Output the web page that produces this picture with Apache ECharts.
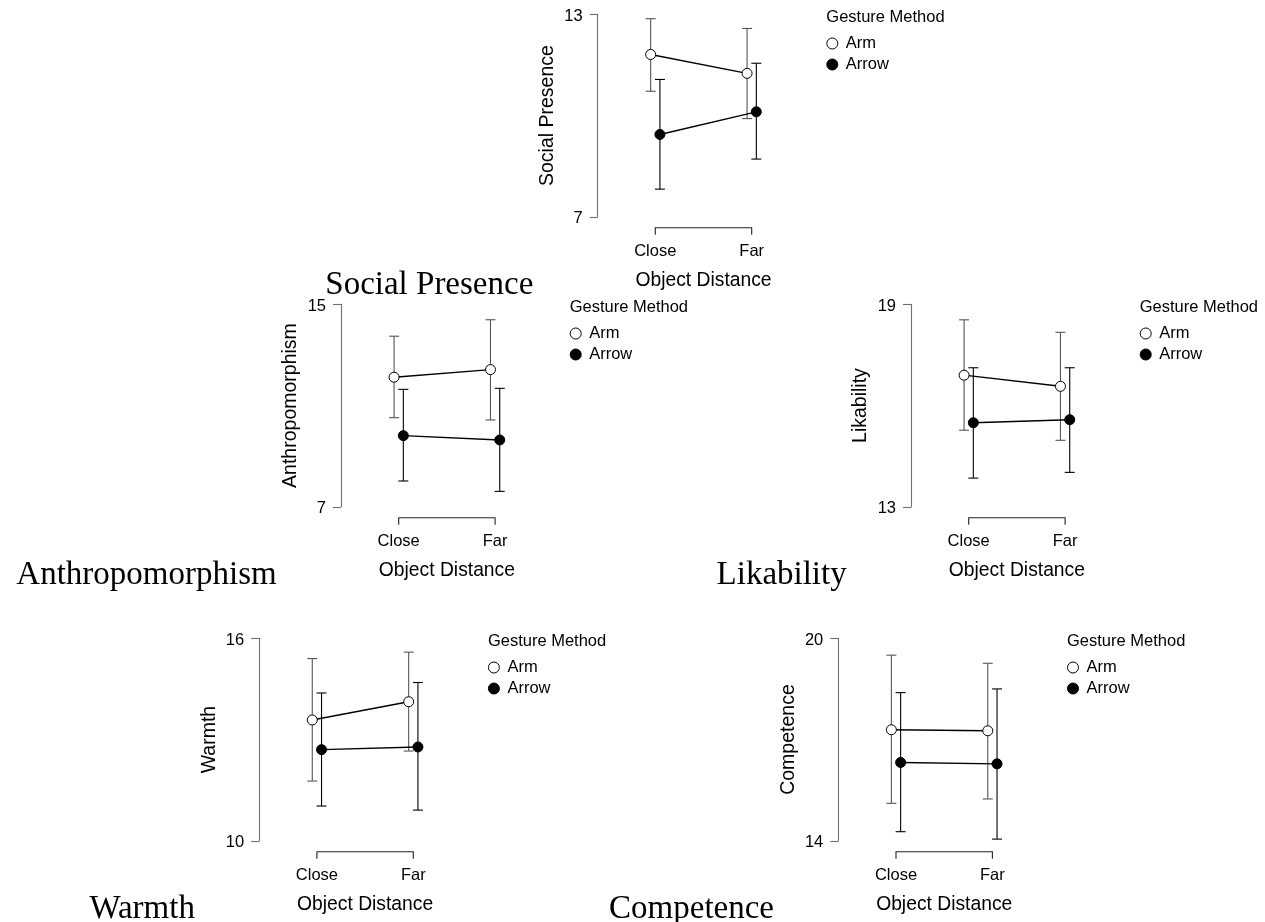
<!DOCTYPE html>
<html>
<head>
<meta charset="utf-8">
<script src="https://cdn.jsdelivr.net/npm/echarts@6/dist/echarts.min.js"></script>
<style>
html,body{margin:0;padding:0;background:#fff;}
#chart{width:1265px;height:922px;}
</style>
</head>
<body>
<div id="chart"></div>
<script>
// ---- data ----
const categories = ['Close', 'Far'];
const groups = ['Arm', 'Arrow'];
const legendTitle = 'Gesture Method';
const xTitle = 'Object Distance';
const panelNames = ['Social Presence', 'Anthropomorphism', 'Likability', 'Warmth', 'Competence'];
const yMins = [7, 7, 13, 10, 14];
const yMaxs = [13, 15, 19, 16, 20];

const socialArm = [11.81, 11.25];
const socialArmLo = [10.72, 9.91];
const socialArmHi = [12.87, 12.58];
const socialArrow = [9.44, 10.11];
const socialArrowLo = [7.82, 8.71];
const socialArrowHi = [11.07, 11.55];

const anthroArm = [12.12, 12.42];
const anthroArmLo = [10.52, 10.43];
const anthroArmHi = [13.74, 14.39];
const anthroArrow = [9.81, 9.64];
const anthroArrowLo = [8.02, 7.61];
const anthroArrowHi = [11.64, 11.68];

const likeArm = [16.90, 16.57];
const likeArmLo = [15.27, 14.97];
const likeArmHi = [18.54, 18.17];
const likeArrow = [15.49, 15.58];
const likeArrowLo = [13.85, 14.02];
const likeArrowHi = [17.12, 17.12];

const warmArm = [13.58, 14.12];
const warmArmLo = [11.77, 12.66];
const warmArmHi = [15.40, 15.59];
const warmArrow = [12.70, 12.78];
const warmArrowLo = [11.03, 10.91];
const warmArrowHi = [14.38, 14.69];

const compArm = [17.29, 17.26];
const compArmLo = [15.11, 15.24];
const compArmHi = [19.50, 19.26];
const compArrow = [16.32, 16.28];
const compArrowLo = [14.27, 14.05];
const compArrowHi = [18.39, 18.50];

const panelData = [
  { arm: socialArm, armLo: socialArmLo, armHi: socialArmHi, arrow: socialArrow, arrowLo: socialArrowLo, arrowHi: socialArrowHi },
  { arm: anthroArm, armLo: anthroArmLo, armHi: anthroArmHi, arrow: anthroArrow, arrowLo: anthroArrowLo, arrowHi: anthroArrowHi },
  { arm: likeArm, armLo: likeArmLo, armHi: likeArmHi, arrow: likeArrow, arrowLo: likeArrowLo, arrowHi: likeArrowHi },
  { arm: warmArm, armLo: warmArmLo, armHi: warmArmHi, arrow: warmArrow, arrowLo: warmArrowLo, arrowHi: warmArrowHi },
  { arm: compArm, armLo: compArmLo, armHi: compArmHi, arrow: compArrow, arrowLo: compArrowLo, arrowHi: compArrowHi }
];

// ---- layout (pixels) ----
const layout = [
  { closeX: 655.3, top: 14.3 },
  { closeX: 398.7, top: 304.3 },
  { closeX: 968.7, top: 304.3 },
  { closeX: 316.9, top: 638.3 },
  { closeX: 896.0, top: 638.3 }
];
const catSpacing = 96.4;
const plotHeight = 202.5;
const dodge = 0.048;
const SANS = '"Liberation Sans", Arial, sans-serif';
const SERIF = '"Liberation Serif", "Times New Roman", serif';

const chart = echarts.init(document.getElementById('chart'), null, { renderer: 'canvas' });

const grids = [], xAxes = [], yAxes = [], series = [], legends = [], graphics = [];

function errorBarSeries(i, name, lo, hi, offset, color) {
  return {
    type: 'custom',
    name: name,
    xAxisIndex: i, yAxisIndex: i,
    z: 2,
    silent: true,
    data: lo.map((v, k) => [k + 1 + offset, v, hi[k]]),
    renderItem: function (params, api) {
      const x = api.value(0);
      const pLo = api.coord([x, api.value(1)]);
      const pHi = api.coord([x, api.value(2)]);
      const cap = 5;
      const st = { stroke: color, lineWidth: 1.1 };
      return {
        type: 'group',
        children: [
          { type: 'line', shape: { x1: pLo[0], y1: pLo[1], x2: pHi[0], y2: pHi[1] }, style: st },
          { type: 'line', shape: { x1: pLo[0] - cap, y1: pLo[1], x2: pLo[0] + cap, y2: pLo[1] }, style: st },
          { type: 'line', shape: { x1: pHi[0] - cap, y1: pHi[1], x2: pHi[0] + cap, y2: pHi[1] }, style: st }
        ]
      };
    }
  };
}

layout.forEach((L, i) => {
  const d = panelData[i];
  const left = L.closeX - catSpacing / 2;
  grids.push({ left: left, top: L.top, width: catSpacing * 2, height: plotHeight, containLabel: false });
  xAxes.push({
    type: 'value', gridIndex: i, min: 0.5, max: 2.5,
    axisLine: { show: false }, axisTick: { show: false }, splitLine: { show: false },
    axisLabel: {
      customValues: [1, 2],
      formatter: v => categories[Math.round(v) - 1],
      fontFamily: SANS, fontSize: 16.5, color: '#000', margin: 26
    },
    name: xTitle, nameLocation: 'middle', nameGap: 54,
    nameTextStyle: { fontFamily: SANS, fontSize: 19.3, color: '#000' }
  });
  yAxes.push({
    type: 'value', gridIndex: i, min: yMins[i], max: yMaxs[i], offset: 9.5,
    axisLine: { show: true, lineStyle: { color: '#707070', width: 1.1 } },
    axisTick: { show: true, length: 8, lineStyle: { color: '#707070', width: 1.1 }, customValues: [yMins[i], yMaxs[i]] },
    axisLabel: {
      customValues: [yMins[i], yMaxs[i]],
      formatter: v => '{t|' + v + '}',
      rich: { t: { fontFamily: SANS, fontSize: 16.5, color: '#000', padding: [4, 0, 0, 0] } },
      margin: 15
    },
    splitLine: { show: false },
    name: panelNames[i], nameLocation: 'middle', nameGap: 40,
    nameTextStyle: { fontFamily: SANS, fontSize: 19.5, color: '#000' }
  });

  // x bracket (axis line from Close to Far, ticks pointing down)
  series.push({
    type: 'custom', xAxisIndex: i, yAxisIndex: i, silent: true, clip: false,
    data: [[1, 2, yMins[i]]],
    renderItem: function (params, api) {
      const p1 = api.coord([api.value(0), api.value(2)]);
      const p2 = api.coord([api.value(1), api.value(2)]);
      const b = p1[1] + 11;
      return {
        type: 'polyline',
        shape: { points: [[p1[0], b + 7], [p1[0], b], [p2[0], b], [p2[0], b + 7]] },
        style: { stroke: '#222', lineWidth: 1.1, fill: null }
      };
    }
  });

  series.push(errorBarSeries(i, groups[0], d.armLo, d.armHi, -dodge, '#555'));
  series.push(errorBarSeries(i, groups[1], d.arrowLo, d.arrowHi, dodge, '#000'));

  series.push({
    type: 'line', name: groups[0], xAxisIndex: i, yAxisIndex: i, z: 3,
    data: d.arm.map((v, k) => [k + 1 - dodge, v]),
    symbol: 'circle', symbolSize: 10, showSymbol: true,
    lineStyle: { color: '#000', width: 1.4 },
    itemStyle: { color: '#fff', borderColor: '#000', borderWidth: 1 },
    emphasis: { disabled: true }, animation: false
  });
  series.push({
    type: 'line', name: groups[1], xAxisIndex: i, yAxisIndex: i, z: 3,
    data: d.arrow.map((v, k) => [k + 1 + dodge, v]),
    symbol: 'circle', symbolSize: 10, showSymbol: true,
    lineStyle: { color: '#000', width: 1.4 },
    itemStyle: { color: '#000', borderColor: '#000', borderWidth: 1 },
    emphasis: { disabled: true }, animation: false
  });

  const legLeft = L.closeX + 171;
  legends.push({
    orient: 'vertical', left: legLeft, top: L.top + 20.7, padding: 0,
    itemGap: 4, itemWidth: 11, itemHeight: 11, icon: 'circle',
    selectedMode: false,
    data: [
      { name: groups[0], itemStyle: { color: '#fff', borderColor: '#000', borderWidth: 1 } },
      { name: groups[1], itemStyle: { color: '#000', borderColor: '#000', borderWidth: 1 } }
    ],
    textStyle: { fontFamily: SANS, fontSize: 16.5, color: '#000', lineHeight: 16, padding: [0, 0, 0, 3] }
  });
  graphics.push({
    type: 'text', x: legLeft, y: L.top + 3.2,
    style: { text: legendTitle, font: '16.5px ' + SANS, fill: '#000', textAlign: 'left', textVerticalAlign: 'middle' }
  });
  graphics.push({
    type: 'text', x: L.closeX - 122, y: L.top + plotHeight + 68.5,
    style: { text: panelNames[i], font: '33px ' + SERIF, fill: '#000', textAlign: 'right', textVerticalAlign: 'middle' }
  });
});

chart.setOption({
  animation: false,
  backgroundColor: '#fff',
  grid: grids,
  xAxis: xAxes,
  yAxis: yAxes,
  legend: legends,
  series: series,
  graphic: graphics
});
</script>
</body>
</html>
